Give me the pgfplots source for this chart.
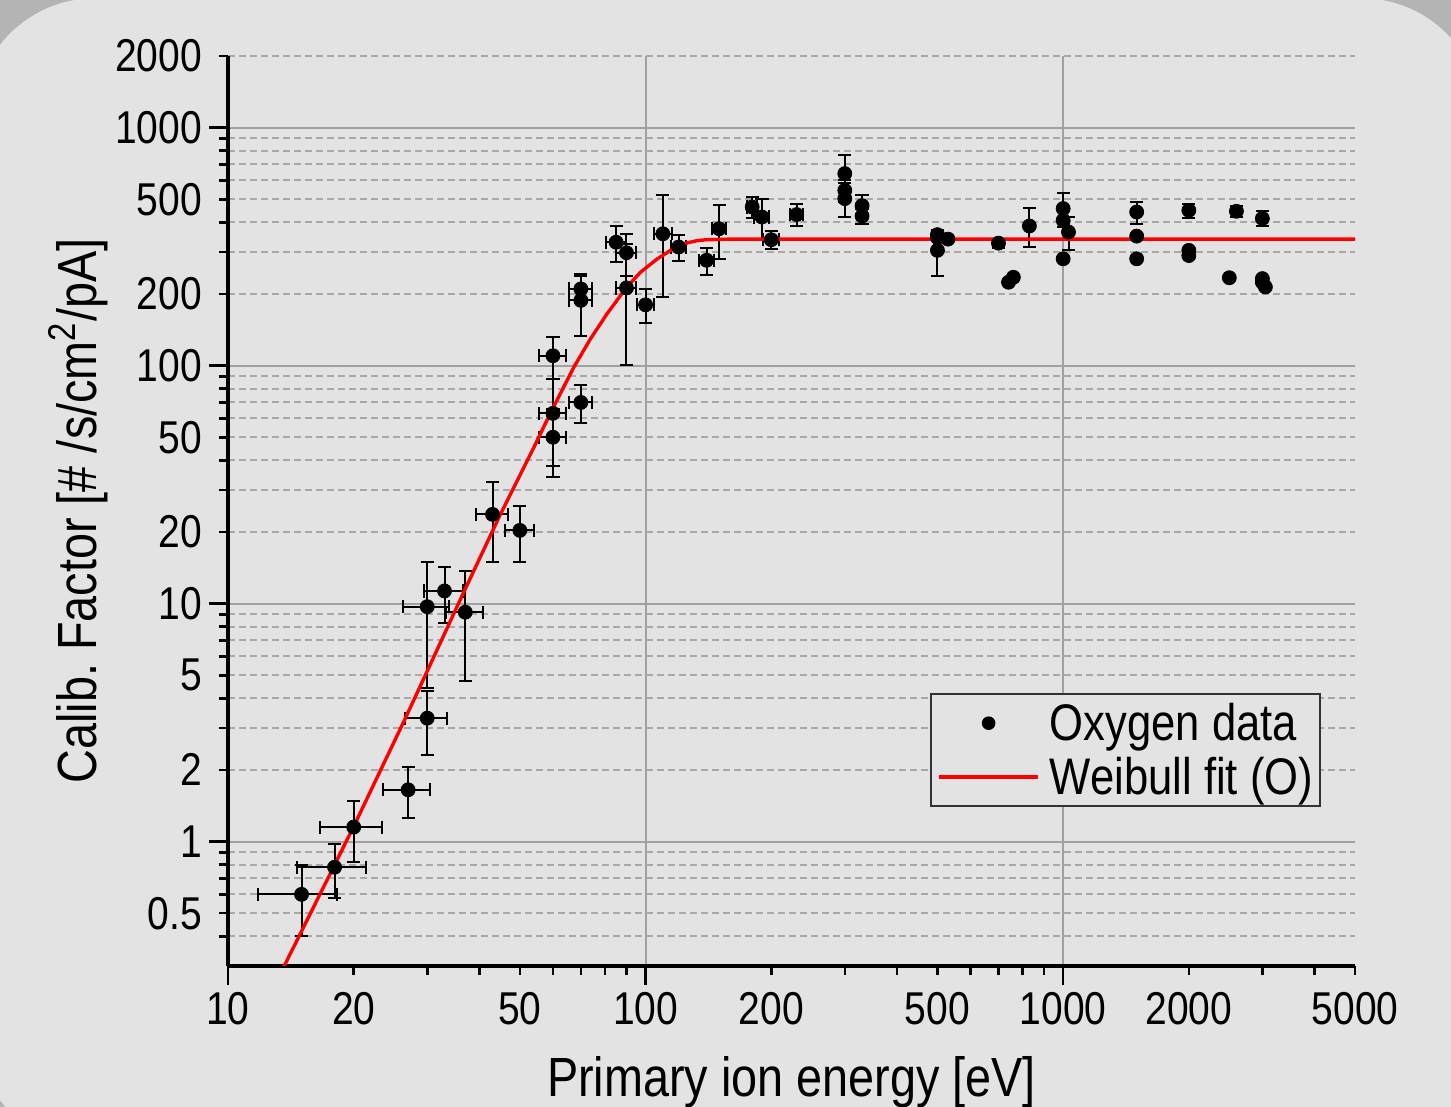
\documentclass[border=0pt]{standalone}
\usepackage{pgfplots}
\pgfplotsset{compat=1.18}
\usepackage{pgfplotstable}
\usepackage{fontspec}
\setmainfont{Liberation Sans}
\newcommand{\vs}[1]{\scalebox{1}[1.18]{#1}}
\definecolor{bg}{RGB}{227,227,227}
\definecolor{outerbg}{RGB}{180,180,180}
\definecolor{gmaj}{RGB}{160,160,160}
\definecolor{gmin}{RGB}{168,168,168}
\pgfplotsset{
  fitlegend/.style={legend image code/.code={\draw[##1] (0pt,0pt) -- (49.6pt,0pt);}},
  datalegend/.style={legend image code/.code={\draw[mark repeat=2, mark phase=2, ##1, mark size=2.9pt] plot coordinates {(0pt,0pt) (24.8pt,0pt) (49.6pt,0pt)};}},
}

\pgfplotstableread{
x y ex ey
15 0.6 3.2 0.2
18 0.78 3.4 0.2
20 1.15 3.4 0.33
27 1.65 3.5 0.4
30 3.3 3.5 1.0
30 9.7 3.8 5.3
33 11.3 3.6 3.0
37 9.2 3.8 4.45
43 23.7 3.8 8.8
50 20.3 4.0 5.4
60 50 4.5 16
60 63 4.5 25
60 110 4.5 22
70 70 4.6 12.6
70 188 4.6 55
70 210 4.6 27
85 330 4.7 57
90 298 5.0 60
90 212 5.0 111
100 180 4.7 29
110 358 5.5 163
120 315 5.0 40
140 277 5.6 36
150 376 5.8 95
180 464 5 45
190 421 8 80
200 338 9 30
230 431 8 45
300 641 0 123
300 545 0 60
300 503 0 82
330 470 0 52
330 425 0 30
500 355 0 0
500 345 0 0
500 305 0 66
530 340 0 0
700 327 0 15
740 224 0 0
760 235 0 0
830 386 0 72
1000 457 0 75
1000 408 0 0
1030 364 0 57
1000 281 0 0
1500 442 0 47
1500 350 0 0
1500 281 0 0
2000 449 0 30
2000 305 0 0
2000 290 0 0
2600 445 0 25
2500 234 0 0
3000 415 0 30
3000 232 0 0
3050 214 0 0
3000 224 0 0
}\datatable

\pgfplotstableread{
x y
13.5 0.29
14.9 0.41
20 1.157
26.6 3.3
36.9 11.4
44.9 23.7
54.0 45.3
59.1 62.9
64.9 86.8
67.3 98.3
73.7 129
80.8 164.7
90 213
97.3 247
106.7 281
116.5 310
126 328
132.9 335
140 338
160 340
5000 340
}\fittable

\begin{document}
\begin{tikzpicture}
\path[use as bounding box] (0,0) rectangle (725.5pt,553.5pt);
\begin{scope}
\clip (0,0) rectangle (725.5pt,553.5pt);
\fill[outerbg] (0,0) rectangle (725.5pt,553.5pt);
\fill[bg, rounded corners=60pt] (-12.5pt,-20pt) rectangle (740.8pt,554.35pt);
\end{scope}
\begin{axis}[
  at={(114pt,70.5pt)}, anchor=south west,
  scale only axis, width=563.5pt, height=455pt,
  xmode=log, ymode=log,
  xmin=10, xmax=5000, ymin=0.3, ymax=2000,
  axis x line=bottom, axis y line=left,
  axis line style={-, line width=1.6pt, black},
  every outer x axis line/.append style={-},
  every outer y axis line/.append style={-},
  tick align=outside,
  major tick length=9.5pt, minor tick length=4.5pt,
  tick style={black, line width=1.3pt},
  xtick={10,100,1000},
  xticklabels={\vs{10},\vs{100},\vs{1000}},
  extra x ticks={20,50,200,500,2000,5000},
  extra x tick labels={\vs{20},\vs{50},\vs{200},\vs{500},\vs{2000},\vs{5000}},
  extra x tick style={grid=none, tick style={draw=none}},
  minor xtick={20,30,40,50,60,70,80,90,200,300,400,500,600,700,800,900,2000,3000,4000,5000},
  ytick={1,10,100,1000},
  yticklabels={\vs{1},\vs{10},\vs{100},\vs{1000}},
  extra y ticks={0.5,2,5,20,50,200,500,2000},
  extra y tick labels={\vs{0.5},\vs{2},\vs{5},\vs{20},\vs{50},\vs{200},\vs{500},\vs{2000}},
  extra y tick style={grid=none, tick style={draw=none}},
  minor ytick={0.4,0.5,0.6,0.7,0.8,0.9,2,3,4,5,6,7,8,9,20,30,40,50,60,70,80,90,200,300,400,500,600,700,800,900,2000},
  xmajorgrids=true, xminorgrids=false,
  ymajorgrids=true, yminorgrids=true,
  major grid style={gmaj, line width=1pt, solid},
  minor grid style={gmin, line width=1pt, dash pattern=on 3.5pt off 2pt},
  ticklabel style={font=\fontsize{19.5}{22}\selectfont},
  label style={font=\fontsize{23.4}{27}\selectfont},
  xlabel={\vs{Primary ion energy [eV]}},
  ylabel={\vs{Calib.\ Factor [\# /s/cm\textsuperscript{2}/pA]}},
  xlabel style={at={(axis description cs:0.5,-0.1275)}, anchor=center},
  ylabel style={at={(axis description cs:-0.133,0.5)}, anchor=center},
  legend style={at={(0.9698,0.1747)}, anchor=south east, fill=bg,
    draw=black!80, line width=1pt, inner xsep=3.4pt, inner ysep=4.4pt,
    font=\fontsize{21.8}{26}\selectfont, row sep=6.8pt, column sep=5pt,
    nodes={inner sep=0pt}},
  legend cell align=left,
]
\addplot[only marks, mark=*, mark size=3.5pt, black, datalegend,
  error bars/.cd, x dir=both, x explicit, y dir=both, y explicit,
  error bar style={line width=1pt, black},
  error mark options={rotate=90, black, mark size=3.3pt, line width=1pt}]
  table[x=x, y=y, x error=ex, y error=ey] {\datatable};
\addlegendentry{\vs{Oxygen data}}
\addplot[red, line width=1.7pt, no marks, fitlegend]
  table[x=x, y=y] {\fittable};
\addlegendentry{\vs{Weibull fit (O)}}
\end{axis}
\end{tikzpicture}
\end{document}
